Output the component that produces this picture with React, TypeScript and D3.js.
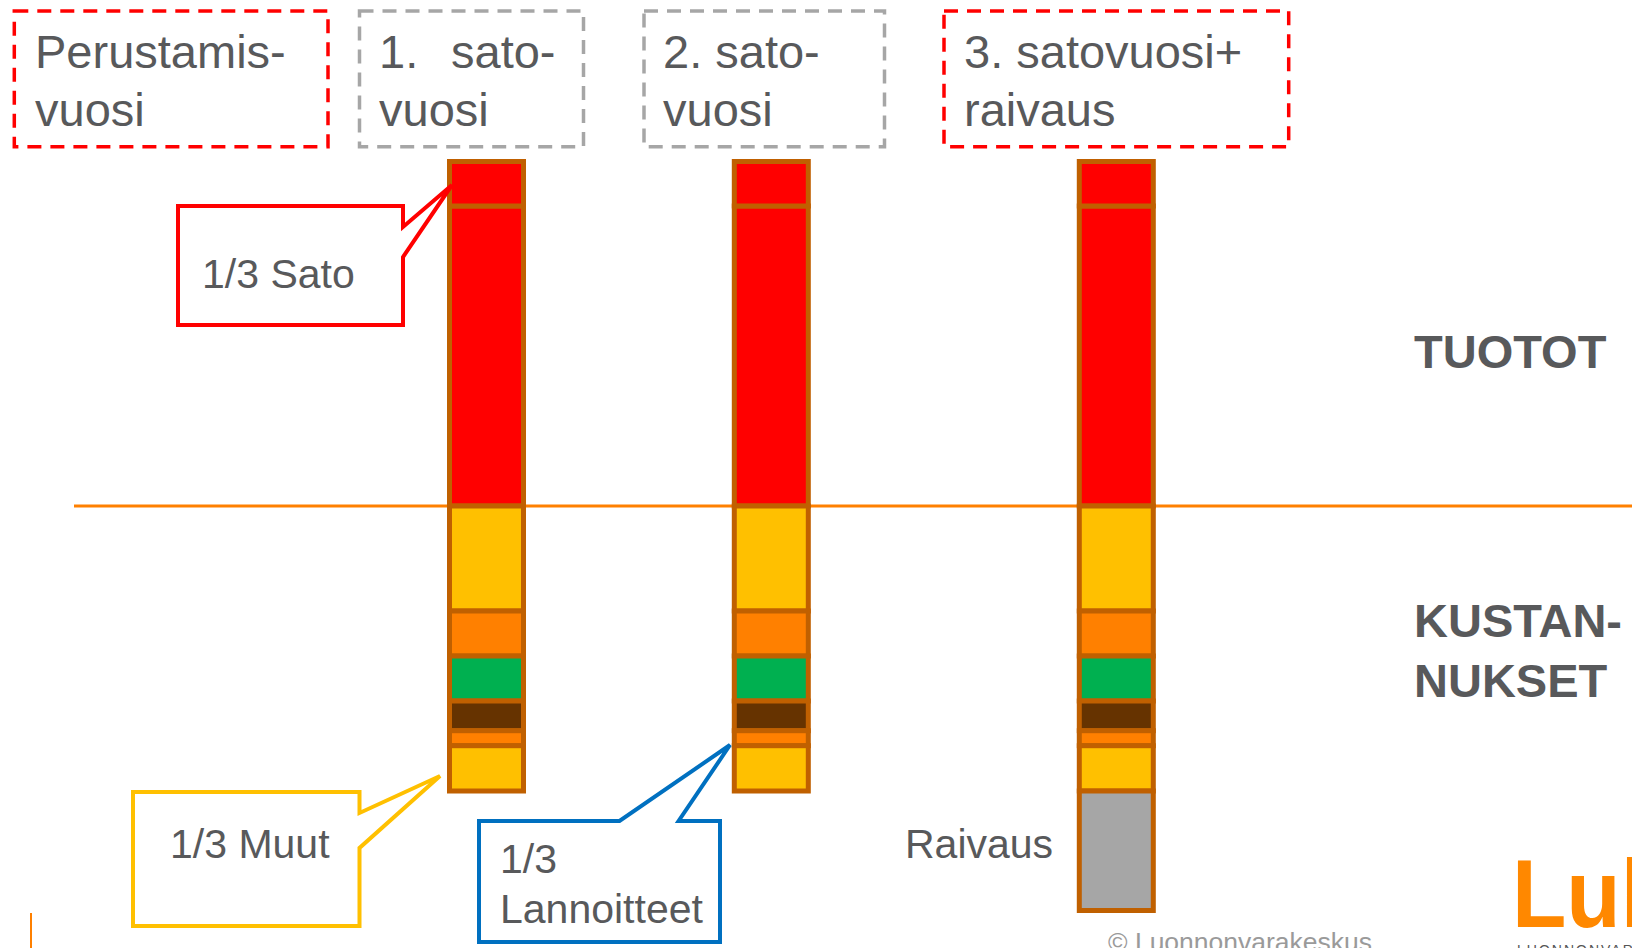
import React from "react";
import * as d3 from "d3";

// ---- data ----
const years = ["Perustamisvuosi", "1. satovuosi", "2. satovuosi", "3. satovuosi+raivaus"];
const headerLines: string[][] = [
  ["Perustamis-", "vuosi"],
  ["1.", "vuosi"],
  ["2. sato-", "vuosi"],
  ["3. satovuosi+", "raivaus"],
];
const barYears = ["1. satovuosi", "2. satovuosi", "3. satovuosi+raivaus"];
const revenueKeys = ["Sato", "1/3 Sato"];
const revenueValues = [
  [300, 44.5],
  [300, 44.5],
  [300, 44.5],
];
const costKeys = ["Muut", "Lannoitteet", "Kasvinsuojelu", "Työ", "1/3 Lannoitteet", "1/3 Muut", "Raivaus"];
const costValues = [
  [105, 45, 45, 29.7, 15, 45.3, 0],
  [105, 45, 45, 29.7, 15, 45.3, 0],
  [105, 45, 45, 29.7, 15, 45.3, 119.5],
];
const revenueColors = ["#FF0000", "#FF0000"];
const costColors = ["#FFC000", "#FF8000", "#00B050", "#663300", "#FF8000", "#FFC000", "#A6A6A6"];
const sideLabels = { top: ["TUOTOT"], bottom: ["KUSTAN-", "NUKSET"] };

const W = 1632;
const H = 948;
const TXT = "#58595B";
const FONT = "'Liberation Sans', Arial, Helvetica, sans-serif";

export default function App() {
  const y = d3.scaleLinear().domain([-400, 400]).range([906, 106]);
  const xBar = d3.scaleOrdinal<string, number>().domain(barYears).range([486.5, 771.3, 1116.3]);
  const barW = 74;
  const hx0 = d3.scaleOrdinal<string, number>().domain(years).range([14.3, 359.5, 644, 944]);
  const hx1 = d3.scaleOrdinal<string, number>().domain(years).range([328, 583.5, 884.5, 1288.7]);
  const hText = d3.scaleOrdinal<string, number>().domain(years).range([35, 379, 663, 964]);
  const hColor = d3.scaleOrdinal<string, string>().domain(years).range(["#FF0000", "#A6A6A6", "#A6A6A6", "#FF0000"]);

  const revRows = barYears.map((yr, i) => {
    const o: any = { year: yr };
    revenueKeys.forEach((k, j) => (o[k] = revenueValues[i][j]));
    return o;
  });
  const costRows = barYears.map((yr, i) => {
    const o: any = { year: yr };
    costKeys.forEach((k, j) => (o[k] = -costValues[i][j]));
    return o;
  });
  const revStack = d3.stack<any>().keys(revenueKeys)(revRows);
  const costStack = d3.stack<any>().keys(costKeys).offset(d3.stackOffsetDiverging)(costRows);

  const segs: { x: number; y0: number; y1: number; fill: string; key: string }[] = [];
  revStack.forEach((s, si) =>
    s.forEach((d) => {
      if (d[1] - d[0] !== 0)
        segs.push({ x: xBar(d.data.year), y0: y(d[1]), y1: y(d[0]), fill: revenueColors[si], key: "r" + si + d.data.year });
    })
  );
  costStack.forEach((s, si) =>
    s.forEach((d) => {
      if (d[1] - d[0] !== 0)
        segs.push({ x: xBar(d.data.year), y0: y(d[1]), y1: y(d[0]), fill: costColors[si], key: "c" + si + d.data.year });
    })
  );

  const textStyle = { fontFamily: FONT, fill: TXT } as any;

  return (
    <svg width={W} height={H} style={{ position: "absolute", left: 0, top: 0, display: "block", background: "#fff" }}>
      <rect x={0} y={0} width={W} height={H} fill="#fff" />
      {/* header boxes */}
      {years.map((yr, i) => (
        <g key={yr}>
          <rect
            x={hx0(yr)}
            y={11}
            width={hx1(yr) - hx0(yr)}
            height={135.7}
            fill="none"
            stroke={hColor(yr)}
            strokeWidth={3.5}
            strokeDasharray="14 9"
          />
          <text x={hText(yr)} y={67.5} fontSize={47} {...textStyle}>
            {headerLines[i][0]}
            {i === 1 ? <tspan x={451}>sato-</tspan> : null}
          </text>
          <text x={hText(yr)} y={125.5} fontSize={47} {...textStyle}>
            {headerLines[i][1]}
          </text>
        </g>
      ))}

      {/* zero line */}
      <line x1={74} x2={W} y1={y(0)} y2={y(0)} stroke="#FF8000" strokeWidth={3} />

      {/* bars */}
      {segs.map((s) => (
        <rect
          key={s.key}
          x={s.x - barW / 2}
          y={s.y0}
          width={barW}
          height={s.y1 - s.y0}
          fill={s.fill}
          stroke="#C06000"
          strokeWidth={5}
        />
      ))}

      {/* side labels */}
      {sideLabels.top.map((t, i) => (
        <text key={t} x={1414} y={368 + i * 60} fontSize={47} fontWeight="bold" {...textStyle}>
          {t}
        </text>
      ))}
      {sideLabels.bottom.map((t, i) => (
        <text key={t} x={1414} y={637 + i * 60} fontSize={47} fontWeight="bold" {...textStyle}>
          {t}
        </text>
      ))}

      {/* callouts */}
      <path
        d="M178,206 H403 V227 L452,185 L403,257 V325 H178 Z"
        fill="#fff"
        stroke="#FF0000"
        strokeWidth={4}
        strokeLinejoin="miter"
      />
      <text x={202} y={288} fontSize={41} {...textStyle}>1/3 Sato</text>

      <path
        d="M133,792 H359.5 V813 L440,776 L359.5,848 V926 H133 Z"
        fill="#fff"
        stroke="#FFC000"
        strokeWidth={4}
      />
      <text x={170} y={858} fontSize={41} {...textStyle}>1/3 Muut</text>

      <path
        d="M479,821 H619.5 L730,745 L678.6,821 H720 V942 H479 Z"
        fill="#fff"
        stroke="#0070C0"
        strokeWidth={4}
      />
      <text x={500} y={873} fontSize={41} {...textStyle}>1/3</text>
      <text x={500} y={923} fontSize={41} {...textStyle}>Lannoitteet</text>

      <text x={905} y={858} fontSize={41} {...textStyle}>Raivaus</text>

      {/* footer */}
      <text x={1108} y={951} fontSize={26.5} fontFamily={FONT} fill="#9A9A9A">© Luonnonvarakeskus</text>
      <line x1={31} x2={31} y1={913} y2={H} stroke="#FF8000" strokeWidth={2} />
      <g transform="translate(1512,927) scale(1,1.08)">
        <text x={0} y={0} fontSize={89} fontWeight="bold" fontFamily={FONT} fill="#FF8800">
          Luke
        </text>
      </g>
      <text x={1517} y={955} fontSize={14} fontFamily={FONT} fill="#555" letterSpacing={2}>LUONNONVARAKESKUS</text>
    </svg>
  );
}
